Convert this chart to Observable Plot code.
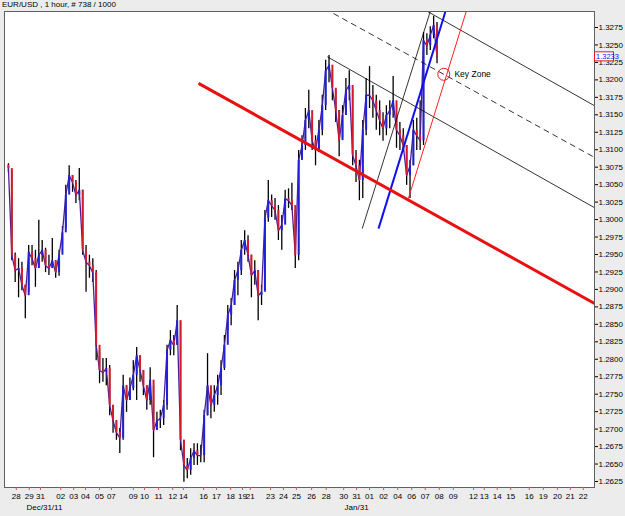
<!DOCTYPE html>
<html><head><meta charset="utf-8">
<script src="https://cdn.jsdelivr.net/npm/d3@7"></script>
<script src="https://cdn.jsdelivr.net/npm/@observablehq/plot@0.6"></script>
<style>
body{margin:0;background:#ececec;font-family:"Liberation Sans",Arial,sans-serif;}
#title{font-size:8px;height:10px;line-height:10px;padding-left:2px;color:#000;white-space:nowrap;}
svg{display:block;}
</style></head>
<body>
<div id="title">EUR/USD , 1 hour, # 738 / 1000</div>
<div id="chart"></div>
<script>
// ---- data (EUR/USD hourly, sampled every 6 hours) ----
const startHour = 7, stepHours = 6, firstOpen = 1.3078;
const highs = [1.3080,1.3070,1.2952,1.2944,1.2939,1.2906,1.2963,1.2963,1.2956,1.2999,
 1.2970,1.2959,1.2949,1.2973,1.2941,1.2956,1.2990,1.3049,1.3077,1.3063,
 1.3056,1.3073,1.3042,1.2963,1.2949,1.2944,1.2927,1.2813,1.2801,1.2801,
 1.2791,1.2734,1.2712,1.2701,1.2777,1.2762,1.2773,1.2798,1.2817,1.2805,
 1.2784,1.2762,1.2788,1.2762,1.2724,1.2727,1.2741,1.2820,1.2841,1.2834,
 1.2877,1.2855,1.2684,1.2658,1.2672,1.2679,1.2679,1.2677,1.2727,1.2808,
 1.2755,1.2762,1.2777,1.2798,1.2834,1.2877,1.2887,1.2927,1.2939,1.2970,
 1.2984,1.2977,1.2949,1.2941,1.2927,1.2906,1.3013,1.3056,1.3035,1.3030,
 1.3020,1.3006,1.3042,1.3044,1.3052,1.3013,1.3099,1.3120,1.3159,1.3185,
 1.3142,1.3120,1.3142,1.3178,1.3228,1.3235,1.3213,1.3185,1.3156,1.3163,
 1.3202,1.3213,1.3185,1.3099,1.3085,1.3142,1.3202,1.3219,1.3192,1.3178,
 1.3170,1.3153,1.3163,1.3170,1.3205,1.3149,1.3139,1.3130,1.3106,1.3085,
 1.3142,1.3145,1.3170,1.3268,1.3266,1.3276,1.3291,1.3282];
const lows = [1.3067,1.2941,1.2910,1.2888,1.2898,1.2858,1.2896,1.2934,1.2903,1.2930,
 1.2939,1.2924,1.2920,1.2930,1.2916,1.2919,1.2963,1.2987,1.3042,1.3039,
 1.3023,1.3027,1.2949,1.2896,1.2916,1.2910,1.2798,1.2765,1.2767,1.2762,
 1.2719,1.2694,1.2684,1.2665,1.2684,1.2724,1.2741,1.2755,1.2741,1.2767,
 1.2748,1.2727,1.2734,1.2659,1.2698,1.2701,1.2705,1.2727,1.2805,1.2805,
 1.2820,1.2669,1.2624,1.2629,1.2634,1.2648,1.2648,1.2652,1.2652,1.2719,
 1.2715,1.2724,1.2734,1.2748,1.2784,1.2841,1.2848,1.2877,1.2891,1.2920,
 1.2949,1.2939,1.2888,1.2906,1.2855,1.2877,1.2898,1.2996,1.3003,1.2999,
 1.2970,1.2956,1.3006,1.3016,1.3013,1.2930,1.2941,1.3085,1.3099,1.3130,
 1.3099,1.3077,1.3096,1.3120,1.3156,1.3196,1.3170,1.3139,1.3090,1.3116,
 1.3153,1.3170,1.3077,1.3053,1.3027,1.3030,1.3120,1.3159,1.3145,1.3128,
 1.3120,1.3112,1.3120,1.3130,1.3145,1.3102,1.3099,1.3096,1.3049,1.3030,
 1.3077,1.3099,1.3099,1.3106,1.3235,1.3242,1.3259,1.3223];
const closes = [1.3073,1.2949,1.2927,1.2930,1.2906,1.2891,1.2953,1.2944,1.2930,1.2949,
 1.2956,1.2934,1.2930,1.2941,1.2924,1.2949,1.2981,1.3035,1.3063,1.3053,
 1.3035,1.3042,1.2956,1.2939,1.2934,1.2924,1.2820,1.2784,1.2781,1.2787,
 1.2734,1.2712,1.2695,1.2687,1.2762,1.2741,1.2758,1.2777,1.2805,1.2784,
 1.2762,1.2741,1.2770,1.2698,1.2712,1.2715,1.2734,1.2813,1.2827,1.2820,
 1.2855,1.2684,1.2648,1.2641,1.2658,1.2669,1.2662,1.2662,1.2719,1.2762,
 1.2734,1.2748,1.2762,1.2787,1.2820,1.2863,1.2877,1.2913,1.2927,1.2956,
 1.2970,1.2949,1.2920,1.2927,1.2891,1.2896,1.3002,1.3027,1.3020,1.3013,
 1.2984,1.2992,1.3030,1.3027,1.3020,1.2949,1.3085,1.3106,1.3142,1.3156,
 1.3113,1.3099,1.3128,1.3163,1.3213,1.3221,1.3188,1.3156,1.3113,1.3149,
 1.3185,1.3192,1.3092,1.3077,1.3056,1.3128,1.3178,1.3178,1.3170,1.3156,
 1.3142,1.3130,1.3149,1.3156,1.3170,1.3128,1.3120,1.3106,1.3063,1.3077,
 1.3128,1.3120,1.3113,1.3256,1.3249,1.3264,1.3278,1.3233];
const lastPrice = 1.3233;

// trend lines: [hour1, price1, hour2, price2]
const thickRedLine = [[345, 1.3195, 1049, 1.2880]];
const solidBlackLines = [[752, 1.3298, 1049, 1.3163], [574, 1.3233, 1049, 1.3017], [636, 1.2987, 757, 1.3298]];
const dashedBlackLines = [[585, 1.3295, 1049, 1.3089]];
const blueLines = [[665, 1.2987, 784, 1.3298]];
const thinRedLines = [[718, 1.3030, 821, 1.3298]];
const keyZone = [{t: 781, p: 1.3208, label: "Key Zone", tLabel: 800}];

// axes
const yTicks = [1.2625,1.2650,1.2675,1.2700,1.2725,1.2750,1.2775,1.2800,1.2825,1.2850,1.2875,1.2900,1.2925,1.2950,1.2975,1.3000,1.3025,1.3050,1.3075,1.3100,1.3125,1.3150,1.3175,1.3200,1.3225,1.3250,1.3275];
const xTickHours = [21,44,64,100,123,144,169,190,229,249,274,299,318,354,377,402,423,437,473,496,519,546,572,603,626,649,674,699,724,748,773,798,834,853,876,900,933,958,983,1006,1029];
const xTickLabels = ["28","29","31","02","03","04","05","07","09","10","11","12","14","16","17","18","19","21","23","24","25","26","28","30","31","01","02","04","06","07","08","09","12","13","14","15","16","19","20","21","22"];
const monthLabels = [{t: 71, label: "Dec/31/11"}, {t: 626, label: "Jan/31"}];

// ---- build ----
const bars = highs.map((h, i) => ({
  t: startHour + stepHours * i, hi: h, lo: lows[i], cl: closes[i],
  op: i ? closes[i - 1] : firstOpen
}));
const seg = a => a.map(([x1, y1, x2, y2]) => ({x1, y1, x2, y2}));
const labelOf = new Map(xTickHours.map((h, i) => [h, xTickLabels[i]]));
const L = {x1: "x1", y1: "y1", x2: "x2", y2: "y2", clip: true};

const plot = Plot.plot({
  width: 625, height: 506,
  marginLeft: 4, marginRight: 31, marginTop: 1, marginBottom: 29,
  style: {background: "#ececec", fontFamily: "Liberation Sans, Arial, sans-serif", fontSize: "8px"},
  x: {domain: [0, 1049], axis: null},
  y: {domain: [1.26164, 1.32979], axis: null},
  marks: [
    Plot.frame({fill: "white", stroke: null}),
    Plot.ruleX(bars, {x: "t", y1: "lo", y2: "hi", stroke: "#000", strokeWidth: 1.3}),
    Plot.line(bars, {x: "t", y: "cl", stroke: "#4a1f96", strokeWidth: 1.3}),
    Plot.ruleX(bars, {x: "t", y1: "op", y2: "cl", stroke: d => d.cl >= d.op ? "#2020d8" : "#d41c2c", strokeWidth: 2}),
    Plot.link(seg(solidBlackLines), {...L, stroke: "#000", strokeWidth: 0.8}),
    Plot.link(seg(dashedBlackLines), {...L, stroke: "#000", strokeWidth: 0.8, strokeDasharray: "6,4"}),
    Plot.link(seg(blueLines), {...L, stroke: "#1010ee", strokeWidth: 2}),
    Plot.link(seg(thinRedLines), {...L, stroke: "#ff2020", strokeWidth: 1}),
    Plot.link(seg(thickRedLine), {...L, stroke: "#e81010", strokeWidth: 3}),
    Plot.dot(keyZone, {x: "t", y: "p", r: 6, stroke: "#e02020", fill: "none", strokeWidth: 1}),
    Plot.text(keyZone, {x: "tLabel", y: "p", text: "label", textAnchor: "start", fontSize: 8.5, fill: "#000"}),
    Plot.frame({stroke: "#606060"}),
    Plot.axisY({anchor: "right", ticks: yTicks, tickSize: 3, tickPadding: 1, tickFormat: d => d.toFixed(4), fontSize: 8}),
    Plot.axisX({ticks: xTickHours, tickFormat: d => labelOf.get(d), tickSize: 3, tickPadding: 3, fontSize: 8, stroke: "#c06060"}),
    Plot.text(monthLabels, {x: "t", text: "label", frameAnchor: "bottom", dy: 22, fontSize: 8, fill: "#000"})
  ]
});
document.getElementById("chart").appendChild(plot);

// last-price box on the right axis
const ys = plot.scale("y");
const yc = ys.apply(lastPrice);
const g = d3.select(plot).append("g");
g.append("rect").attr("x", 594.5).attr("y", yc - 4.5).attr("width", 19).attr("height", 9)
  .attr("fill", "white").attr("stroke", "#e02020").attr("stroke-width", 1);
g.append("text").attr("x", 596).attr("y", yc + 3).attr("fill", "#1010ee")
  .attr("text-anchor", "start").attr("font-size", 7.5).text(lastPrice.toFixed(4));
</script>
</body></html>
